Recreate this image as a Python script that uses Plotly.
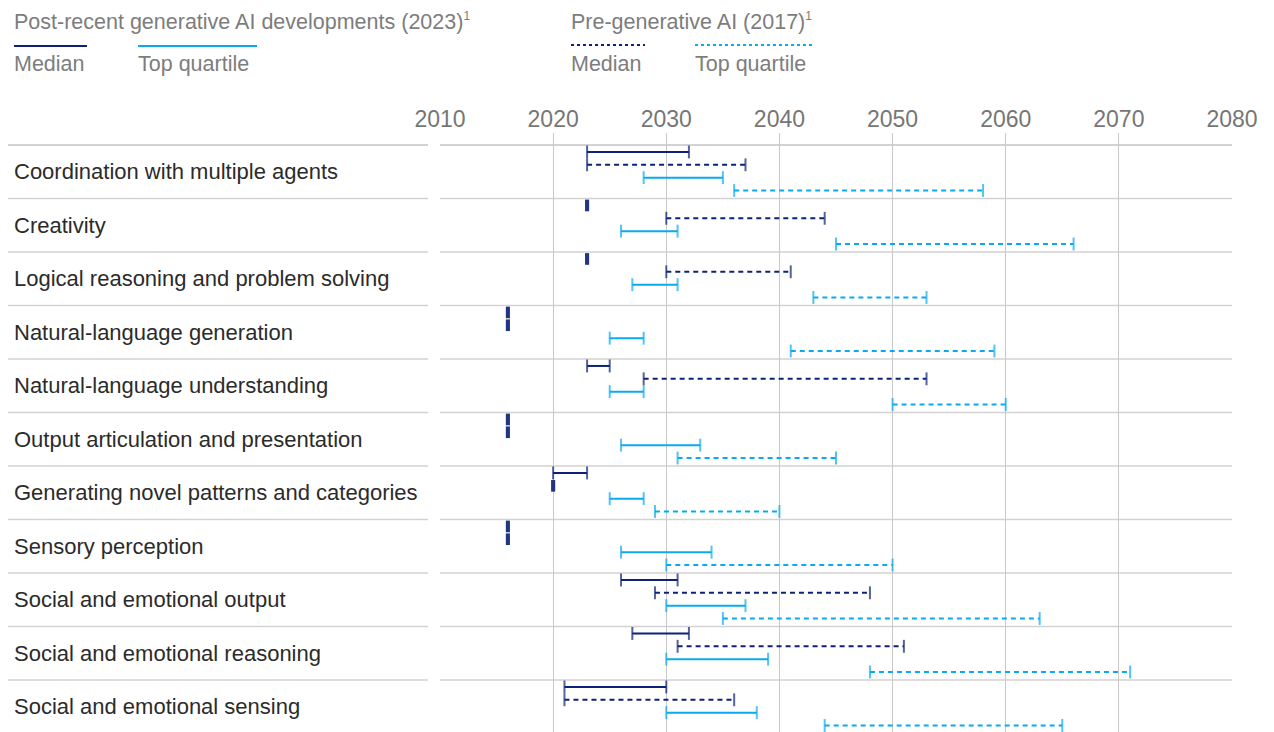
import plotly.graph_objects as go

W, H = 1274, 732

categories = [
    "Coordination with multiple agents",
    "Creativity",
    "Logical reasoning and problem solving",
    "Natural-language generation",
    "Natural-language understanding",
    "Output articulation and presentation",
    "Generating novel patterns and categories",
    "Sensory perception",
    "Social and emotional output",
    "Social and emotional reasoning",
    "Social and emotional sensing",
]

median_2023_start = [2023, 2023, 2023, 2016, 2023, 2016, 2020, 2016, 2026, 2027, 2021]
median_2023_end = [2032, 2023, 2023, 2016, 2025, 2016, 2023, 2016, 2031, 2032, 2030]
median_2017_start = [2023, 2030, 2030, 2016, 2028, 2016, 2020, 2016, 2029, 2031, 2021]
median_2017_end = [2037, 2044, 2041, 2016, 2053, 2016, 2020, 2016, 2048, 2051, 2036]
top_2023_start = [2028, 2026, 2027, 2025, 2025, 2026, 2025, 2026, 2030, 2030, 2030]
top_2023_end = [2035, 2031, 2031, 2028, 2028, 2033, 2028, 2034, 2037, 2039, 2038]
top_2017_start = [2036, 2045, 2043, 2041, 2050, 2031, 2029, 2030, 2035, 2048, 2044]
top_2017_end = [2058, 2066, 2053, 2059, 2060, 2045, 2040, 2050, 2063, 2071, 2065]

tick_years = [2010, 2020, 2030, 2040, 2050, 2060, 2070, 2080]

NAVY = "#0d2277"
BLUE = "#0aaaf0"
GRID = "#c9c9c9"
SEP = "#d2d2d2"
LABEL = "#2b2b2b"
GREY = "#7d7d7d"
FONT = "Liberation Sans, Arial, sans-serif"

# page offset of the figure (browser body margin)
OFF = 8

# layout geometry (target screen pixels)
PLOT_TOP = 133
ROW_TOP = 145
ROW_H = 53.5
X_LEFT, X_RIGHT = 440, 1232


def px_x(px):
    return (px - OFF) / W


def px_y(py):
    return (H - (py - OFF)) / (H - (PLOT_TOP - OFF))


fig = go.Figure()

series = [
    (median_2023_start, median_2023_end, NAVY, "solid", 0.13, "Median (2023)"),
    (median_2017_start, median_2017_end, NAVY, "5px,4px", 0.37, "Median (2017)"),
    (top_2023_start, top_2023_end, BLUE, "solid", 0.61, "Top quartile (2023)"),
    (top_2017_start, top_2017_end, BLUE, "5px,4px", 0.85, "Top quartile (2017)"),
]

for starts, ends, color, dash, off, name in series:
    xs, ys, widths, sizes = [], [], [], []
    for i, (s, e) in enumerate(zip(starts, ends)):
        yy = i + off
        point = s == e
        w = 4 if point else 2
        sz = 8.2 if point else 9.2
        xs += [s, e, None]
        ys += [yy, yy, None]
        widths += [w, w, 0]
        sizes += [sz, sz, 0]
    fig.add_trace(go.Scatter(
        x=xs, y=ys, mode="lines+markers", name=name, showlegend=False,
        line=dict(color=color, width=2, dash=dash),
        marker=dict(symbol="line-ns", size=sizes, color=color,
                    line=dict(color=color, width=widths)),
        hoverinfo="skip",
    ))

shapes = []
for i in range(len(categories) + 1):
    w = 2 if i == 0 else 1.5
    shapes.append(dict(type="line", xref="x", yref="y", x0=2010, x1=2080, y0=i, y1=i,
                       line=dict(color=SEP, width=w), layer="below"))
    shapes.append(dict(type="line", xref="paper", yref="y", x0=px_x(8), x1=px_x(428), y0=i, y1=i,
                       line=dict(color=SEP, width=w), layer="below"))

annotations = []
for i, c in enumerate(categories):
    annotations.append(dict(text=c, xref="paper", yref="y", x=px_x(12), y=i + 0.5,
                            xanchor="left", yanchor="middle", showarrow=False,
                            font=dict(family=FONT, size=22, color=LABEL)))

SUP = "<sup><span style='font-size:12px'>1</span></sup>"
legend_texts = [
    ("Post-recent generative AI developments (2023)" + SUP, 12, 21),
    ("Median", 12, 64),
    ("Top quartile", 136, 64),
    ("Pre-generative AI (2017)" + SUP, 569, 21),
    ("Median", 569, 64),
    ("Top quartile", 693, 64),
]
for t, x, y in legend_texts:
    annotations.append(dict(text=t, xref="paper", yref="paper", x=px_x(x), y=px_y(y),
                            xanchor="left", yanchor="middle", showarrow=False,
                            font=dict(family=FONT, size=21.5, color=GREY)))

legend_lines = [
    (14, 87, 46, NAVY, "solid"),
    (138, 257, 46, BLUE, "solid"),
    (571, 645, 45, NAVY, "3px,3px"),
    (695, 815, 45, BLUE, "3px,3px"),
]
for x0, x1, y, col, dash in legend_lines:
    shapes.append(dict(type="line", xref="paper", yref="paper", x0=px_x(x0), x1=px_x(x1),
                       y0=px_y(y), y1=px_y(y), line=dict(color=col, width=2, dash=dash)))

y_top = -(ROW_TOP - PLOT_TOP) / ROW_H
y_bot = (H + OFF - ROW_TOP) / ROW_H

fig.update_layout(
    width=W, height=H,
    margin=dict(l=0, r=0, t=PLOT_TOP - OFF, b=0, autoexpand=False),
    paper_bgcolor="white", plot_bgcolor="white",
    shapes=shapes, annotations=annotations,
    showlegend=False,
    xaxis=dict(domain=[px_x(X_LEFT), px_x(X_RIGHT)], range=[2010, 2080], side="top",
               tickvals=tick_years, ticktext=[str(t) for t in tick_years],
               showgrid=True, gridcolor=GRID, gridwidth=1, zeroline=False, showline=False,
               ticks="", tickfont=dict(family=FONT, size=23, color="#767676"),
               automargin=False, fixedrange=True),
    yaxis=dict(range=[y_bot, y_top], showgrid=False, zeroline=False, showticklabels=False,
               showline=False, automargin=False, fixedrange=True),
)

fig.write_html("out.html")
